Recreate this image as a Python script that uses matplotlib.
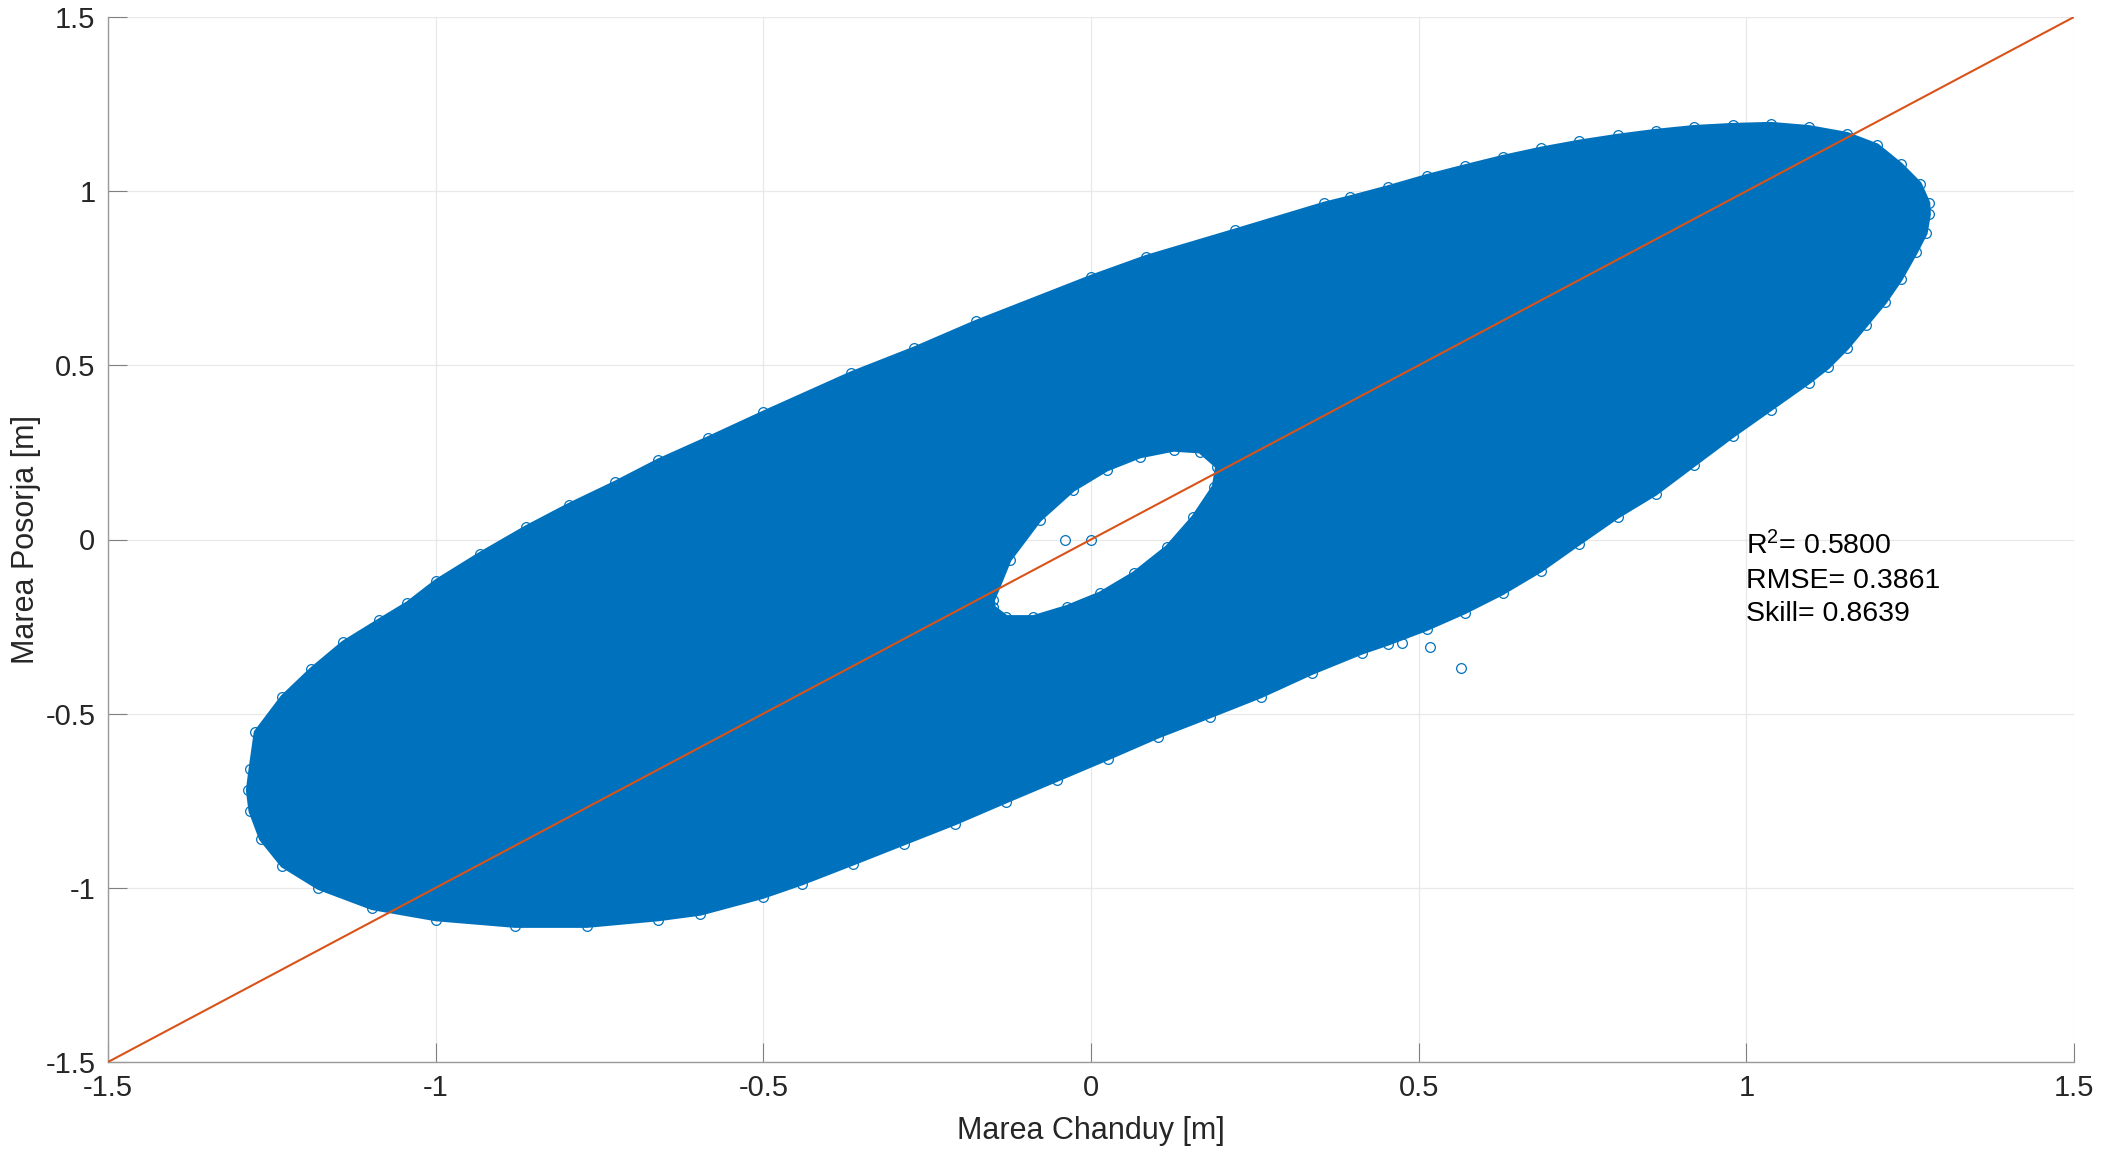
import numpy as np
import matplotlib
matplotlib.use("Agg")
import matplotlib.pyplot as plt
from matplotlib.path import Path
from matplotlib.patches import PathPatch

plt.rcParams['font.family'] = ['Liberation Sans', 'DejaVu Sans']
plt.rcParams['mathtext.fontset'] = 'custom'
plt.rcParams['mathtext.rm'] = 'Liberation Sans'
plt.rcParams['mathtext.it'] = 'Liberation Sans'
plt.rcParams['axes.unicode_minus'] = False

# ---- data ----
# outer envelope of the dense scatter cloud (Chanduy, Posorja)
outer_x = [-1.287, -1.283, -1.267, -1.234, -1.179, -1.097, -1.000, -0.879, -0.769, -0.660,
           -0.596, -0.501, -0.441, -0.363, -0.285, -0.208, -0.130, -0.052, 0.026, 0.103,
           0.181, 0.259, 0.337, 0.414, 0.453, 0.512, 0.570, 0.628, 0.687, 0.745,
           0.804, 0.862, 0.920, 0.979, 1.037, 1.095, 1.125, 1.154, 1.183, 1.212,
           1.236, 1.259, 1.274, 1.279, 1.278, 1.265, 1.236, 1.200, 1.154, 1.095,
           1.037, 0.979, 0.920, 0.862, 0.804, 0.745, 0.687, 0.628, 0.570, 0.512,
           0.453, 0.395, 0.356, 0.220, 0.084, 0.000, -0.175, -0.270, -0.366, -0.500,
           -0.584, -0.660, -0.726, -0.797, -0.862, -0.933, -0.999, -1.043, -1.086, -1.141,
           -1.190, -1.234, -1.275, -1.283]
outer_y = [-0.720, -0.780, -0.860, -0.937, -1.001, -1.059, -1.091, -1.110, -1.110, -1.091,
           -1.075, -1.027, -0.988, -0.931, -0.873, -0.816, -0.753, -0.691, -0.629, -0.566,
           -0.509, -0.451, -0.384, -0.325, -0.300, -0.258, -0.210, -0.155, -0.089, -0.012,
           0.065, 0.131, 0.213, 0.296, 0.373, 0.450, 0.494, 0.549, 0.615, 0.681,
           0.747, 0.824, 0.879, 0.934, 0.967, 1.022, 1.077, 1.132, 1.165, 1.185,
           1.194, 1.191, 1.185, 1.174, 1.160, 1.143, 1.123, 1.099, 1.072, 1.044,
           1.012, 0.983, 0.965, 0.888, 0.812, 0.755, 0.626, 0.549, 0.478, 0.365,
           0.292, 0.228, 0.164, 0.100, 0.036, -0.041, -0.118, -0.182, -0.231, -0.295,
           -0.372, -0.451, -0.553, -0.660]

# empty core of the cloud
hole_x = [-0.149, -0.124, -0.078, -0.027, 0.024, 0.075, 0.126, 0.166, 0.192, 0.187,
          0.156, 0.116, 0.065, 0.014, -0.037, -0.088, -0.129, -0.149]
hole_y = [-0.174, -0.059, 0.056, 0.142, 0.200, 0.238, 0.257, 0.252, 0.209, 0.152,
          0.065, -0.021, -0.097, -0.154, -0.193, -0.222, -0.222, -0.193]

# isolated points
lone_x = [-0.039, 0.0, 0.474, 0.517, 0.565]
lone_y = [0.0, 0.0, -0.296, -0.309, -0.369]

# 1:1 reference line
line_x = [-1.5, 1.5]
line_y = [-1.5, 1.5]

ticks = [-1.5, -1, -0.5, 0, 0.5, 1, 1.5]
tick_labels = ['-1.5', '-1', '-0.5', '0', '0.5', '1', '1.5']

stats = ['R$^2$= 0.5800', 'RMSE= 0.3861', 'Skill= 0.8639']
stats_y = [-0.042, -0.138, -0.234]

blue = '#0072BD'
orange = '#D95319'

fig = plt.figure(figsize=(21.22, 11.54), dpi=100)
W, H = 2122, 1154
ax = fig.add_axes([108 / W, (H - 1062) / H, (2074 - 108) / W, (1062 - 17) / H])


def signed_area(xs, ys):
    xs = np.asarray(xs); ys = np.asarray(ys)
    return 0.5 * np.sum(xs * np.roll(ys, -1) - np.roll(xs, -1) * ys)


ox, oy = list(outer_x), list(outer_y)
if signed_area(ox, oy) < 0:
    ox, oy = ox[::-1], oy[::-1]
hx, hy = list(hole_x), list(hole_y)
if signed_area(hx, hy) > 0:
    hx, hy = hx[::-1], hy[::-1]

verts = list(zip(ox, oy)) + [(ox[0], oy[0])] + list(zip(hx, hy)) + [(hx[0], hy[0])]
codes = ([Path.MOVETO] + [Path.LINETO] * (len(ox) - 1) + [Path.CLOSEPOLY] +
         [Path.MOVETO] + [Path.LINETO] * (len(hx) - 1) + [Path.CLOSEPOLY])
cloud = PathPatch(Path(verts, codes), facecolor=blue, edgecolor=blue, lw=2.5,
                  joinstyle='round', zorder=2)
ax.add_patch(cloud)

# circles on the rim of the cloud and the hole
ax.plot(outer_x, outer_y, 'o', ms=7, mfc='none', mec=blue, mew=0.9, zorder=2)
ax.plot(hole_x, hole_y, 'o', ms=7, mfc='none', mec=blue, mew=0.9, zorder=2)
ax.plot(lone_x, lone_y, 'o', ms=7, mfc='none', mec=blue, mew=0.9, zorder=2)

ax.plot(line_x, line_y, '-', color=orange, lw=1.5, zorder=3)

ax.set_xlim(-1.5, 1.5)
ax.set_ylim(-1.5, 1.5)
ax.set_xticks(ticks)
ax.set_xticklabels(tick_labels)
ax.set_yticks(ticks)
ax.set_yticklabels(tick_labels)
ax.tick_params(direction='in', length=14, width=0.8, colors='#808080',
               labelcolor='#262626', labelsize=21, pad=9)
ax.grid(True, color='#E8E8E8', lw=0.9)
ax.set_axisbelow(True)
for s in ['top', 'right']:
    ax.spines[s].set_visible(False)
for s in ['left', 'bottom']:
    ax.spines[s].set_color('#9A9A9A')
    ax.spines[s].set_linewidth(1.0)

ax.set_xlabel('Marea Chanduy [m]', fontsize=22, color='#262626', labelpad=10)
ax.set_ylabel('Marea Posorja [m]', fontsize=22, color='#262626', labelpad=3)

for s, yy in zip(stats, stats_y):
    ax.text(1.0, yy, s, fontsize=20.5, color='#000000', ha='left', va='baseline')

fig.savefig('out.png', dpi=100)
